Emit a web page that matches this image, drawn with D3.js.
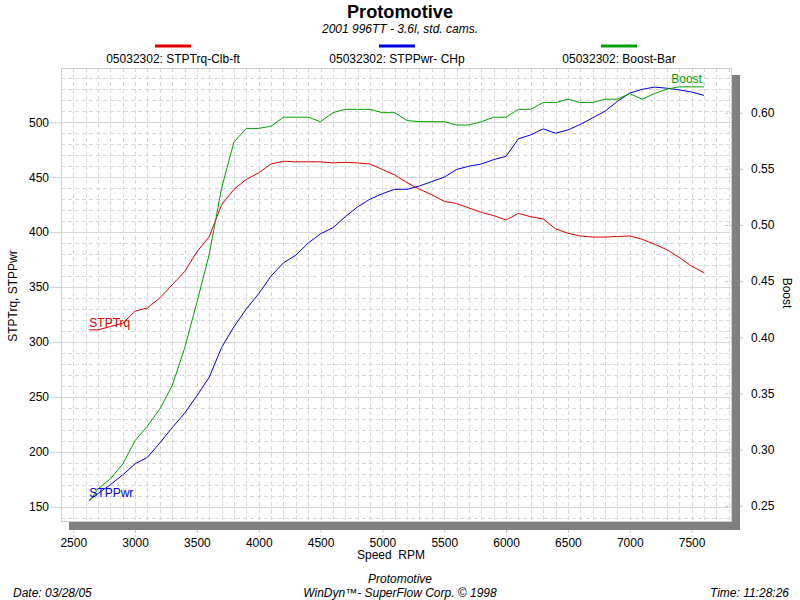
<!DOCTYPE html>
<html>
<head>
<meta charset="utf-8">
<script src="https://cdn.jsdelivr.net/npm/d3@7/dist/d3.min.js"></script>
<style>
  body { margin: 0; background: #fff; }
  text { font-family: "Liberation Sans", Arial, sans-serif; }
</style>
</head>
<body>
<svg id="chart" width="800" height="600"></svg>
<script>
// dyno run 05032302, one sample every 100 rpm
const rpm = [2630, 2700, 2800, 2900, 3000, 3100, 3200, 3300, 3400, 3500, 3600, 3700, 3800, 3900,
  4000, 4100, 4200, 4300, 4400, 4500, 4600, 4700, 4800, 4900, 5000, 5100, 5200, 5300, 5400,
  5500, 5600, 5700, 5800, 5900, 6000, 6100, 6200, 6300, 6400, 6500, 6600, 6700, 6800, 6900,
  7000, 7100, 7200, 7300, 7400, 7500, 7600];

const torque = [311, 311, 314, 317, 328, 331, 340, 352, 364, 382, 396, 425, 439, 448,
  454, 462, 464.5, 464, 464, 464, 463, 463.5, 463, 462, 457, 452, 445, 439, 434,
  428, 426, 422, 418, 415, 411, 417, 414, 412, 403, 399, 396.5, 395.5, 395.5, 396,
  396.5, 393.5, 389, 384, 377, 369, 363];

const power = [156, 162, 170, 179, 189, 195, 208, 222, 235, 251, 268, 295, 314, 330,
  344, 360, 372, 379, 390, 398.5, 404, 414, 423, 430, 435, 439, 439, 442, 446,
  450, 457, 460, 462, 466, 469, 485, 488.5, 494, 490, 493, 498, 504, 510, 519,
  526.5, 530, 532, 531, 529.5, 527.5, 524.5];

const boost = [0.254, 0.265, 0.274, 0.287, 0.308, 0.321, 0.336, 0.357, 0.390, 0.431, 0.474, 0.533, 0.574, 0.586,
  0.586, 0.588, 0.596, 0.596, 0.596, 0.592, 0.600, 0.603, 0.603, 0.603, 0.600, 0.600, 0.593, 0.592, 0.592,
  0.592, 0.589, 0.589, 0.592, 0.596, 0.596, 0.603, 0.603, 0.609, 0.609, 0.612, 0.609, 0.609, 0.612, 0.612,
  0.617, 0.612, 0.617, 0.621, 0.623, 0.623, 0.623];

const xTicks = [2500, 3000, 3500, 4000, 4500, 5000, 5500, 6000, 6500, 7000, 7500];
const leftTicks = [150, 200, 250, 300, 350, 400, 450, 500];
const rightTicks = [0.25, 0.30, 0.35, 0.40, 0.45, 0.50, 0.55, 0.60];
const legendNames = ["05032302: STPTrq-Clb-ft", "05032302: STPPwr- CHp", "05032302: Boost-Bar"];

const RED = "#e00000", BLUE = "#0000e0", GREEN = "#00a000";
const GRID = "#d8d8d8", SHADOW = "#808080";

const plotL = 61, plotT = 68, plotR = 731, plotB = 521;

const svg = d3.select("#chart");

var x = d3.scaleLinear().domain([2401, 7819]).range([plotL, plotR]);
var yL = d3.scaleLinear().domain([137, 549.4]).range([plotB, plotT]);
var yR = d3.scaleLinear().domain([0.2364, 0.6398]).range([plotB, plotT]);

// ---- titles
svg.append("text").attr("x", 400).attr("y", 18).attr("text-anchor", "middle")
  .attr("font-size", 19).attr("font-weight", "bold")
  .attr("textLength", 106).attr("lengthAdjust", "spacingAndGlyphs")
  .text("Protomotive");
svg.append("text").attr("x", 400).attr("y", 33).attr("text-anchor", "middle")
  .attr("font-size", 12).attr("font-style", "italic")
  .text("2001 996TT - 3.6l, std. cams.");

// ---- legend
const legendX = [173, 397, 619];
const legendColors = [RED, BLUE, GREEN];
legendNames.forEach((name, i) => {
  svg.append("line").attr("x1", legendX[i] - 18).attr("x2", legendX[i] + 18)
    .attr("y1", 46).attr("y2", 46).attr("stroke", legendColors[i]).attr("stroke-width", 3);
  svg.append("text").attr("x", legendX[i]).attr("y", 63).attr("text-anchor", "middle")
    .attr("font-size", 12).text(name);
});

// ---- grid
var grid = svg.append("g");
grid.selectAll(".vgrid").data(d3.range(2500, 7801, 100)).join("line")
  .attr("x1", d => Math.round(x(d)) + 0.5).attr("x2", d => Math.round(x(d)) + 0.5)
  .attr("y1", plotT).attr("y2", plotB)
  .attr("stroke", GRID).attr("stroke-dasharray", "4,3");
grid.selectAll(".hgrid").data(d3.range(140, 541, 10)).join("line")
  .attr("x1", plotL).attr("x2", plotR)
  .attr("y1", d => Math.round(yL(d)) + 0.5).attr("y2", d => Math.round(yL(d)) + 0.5)
  .attr("stroke", GRID)
  .attr("stroke-dasharray", d => d % 50 == 0 ? null : "4,3");
grid.append("rect").attr("x", plotL + 0.5).attr("y", plotT + 0.5)
  .attr("width", plotR - plotL).attr("height", plotB - plotT)
  .attr("fill", "none").attr("stroke", "#d0d0d0");

// ---- axes
var yAxis = svg.append("g")
  .attr("transform", `translate(${plotL},0)`)
  .call(d3.axisLeft(yL).tickValues(leftTicks).tickSize(11).tickPadding(1))
  .call(g => g.select(".domain").remove());
yAxis.selectAll("line").attr("stroke", "#d0d0d0");
yAxis.selectAll("text").attr("font-size", 12).attr("font-family", null).attr("fill", "#000");

var rAxis = svg.append("g")
  .attr("transform", `translate(725,0)`)
  .call(d3.axisRight(yR).tickValues(rightTicks).tickSize(19).tickPadding(7).tickFormat(d3.format(".2f")))
  .call(g => g.select(".domain").remove());
rAxis.selectAll("line").attr("stroke", "#c8c8c8").attr("stroke-dasharray", "3,2");
rAxis.selectAll("text").attr("font-size", 12).attr("font-family", null).attr("fill", "#000");

var xAxis = svg.append("g")
  .attr("transform", `translate(0,530)`)
  .call(d3.axisBottom(x).tickValues(xTicks).tickSize(7).tickPadding(1).tickFormat(d3.format("d")))
  .call(g => g.select(".domain").remove());
xAxis.selectAll("line").attr("stroke", "#c8c8c8").attr("stroke-dasharray", "3,2");
xAxis.selectAll("text").attr("font-size", 12).attr("font-family", null).attr("fill", "#000");

// drop shadow of the plot frame
svg.append("rect").attr("x", plotR + 1).attr("y", plotT + 7)
  .attr("width", 8).attr("height", plotB - plotT + 1).attr("fill", SHADOW);
svg.append("rect").attr("x", plotL + 8).attr("y", plotB + 1)
  .attr("width", plotR - plotL + 1).attr("height", 8).attr("fill", SHADOW);

// axis titles
svg.append("text").attr("x", 357).attr("y", 559).attr("font-size", 12).attr("xml:space", "preserve")
  .text("Speed  RPM");
svg.append("text").attr("transform", "translate(17,296) rotate(-90)").attr("text-anchor", "middle")
  .attr("font-size", 12).text("STPTrq, STPPwr");
svg.append("text").attr("transform", "translate(783,293) rotate(90)").attr("text-anchor", "middle")
  .attr("font-size", 12).text("Boost");

// ---- curves
var run = rpm.map((r, i) => ({ rpm: r, trq: torque[i], pwr: power[i], bst: boost[i] }));
const plot = svg.append("g");

plot.append("path").datum(run).attr("fill", "none").attr("stroke", RED)
  .attr("d", d3.line().x(d => x(d.rpm)).y(d => yL(d.trq)));
plot.append("path").datum(run).attr("fill", "none").attr("stroke", BLUE)
  .attr("d", d3.line().x(d => x(d.rpm)).y(d => yL(d.pwr)));
plot.append("path").datum(run).attr("fill", "none").attr("stroke", GREEN)
  .attr("d", d3.line().x(d => x(d.rpm)).y(d => yR(d.bst)));

const first = run[0], last = run[run.length - 1];
plot.append("text").attr("x", x(first.rpm)).attr("y", yL(first.trq) - 2.5)
  .attr("font-size", 12).attr("fill", RED).text("STPTrq");
plot.append("text").attr("x", x(first.rpm)).attr("y", yL(first.pwr) - 3)
  .attr("font-size", 12).attr("fill", BLUE).text("STPPwr");
plot.append("text").attr("x", x(last.rpm) - 2).attr("y", yR(last.bst) - 3.5).attr("text-anchor", "end")
  .attr("font-size", 12).attr("fill", GREEN).text("Boost");

// ---- footer
svg.append("text").attr("x", 400).attr("y", 583).attr("text-anchor", "middle")
  .attr("font-size", 12).attr("font-style", "italic").text("Protomotive");
svg.append("text").attr("x", 400).attr("y", 597).attr("text-anchor", "middle")
  .attr("font-size", 12).attr("font-style", "italic").text("WinDyn™- SuperFlow Corp. © 1998");
svg.append("text").attr("x", 13).attr("y", 597)
  .attr("font-size", 12).attr("font-style", "italic").text("Date: 03/28/05");
svg.append("text").attr("x", 789).attr("y", 597).attr("text-anchor", "end")
  .attr("font-size", 12).attr("font-style", "italic").text("Time: 11:28:26");
</script>
</body>
</html>
